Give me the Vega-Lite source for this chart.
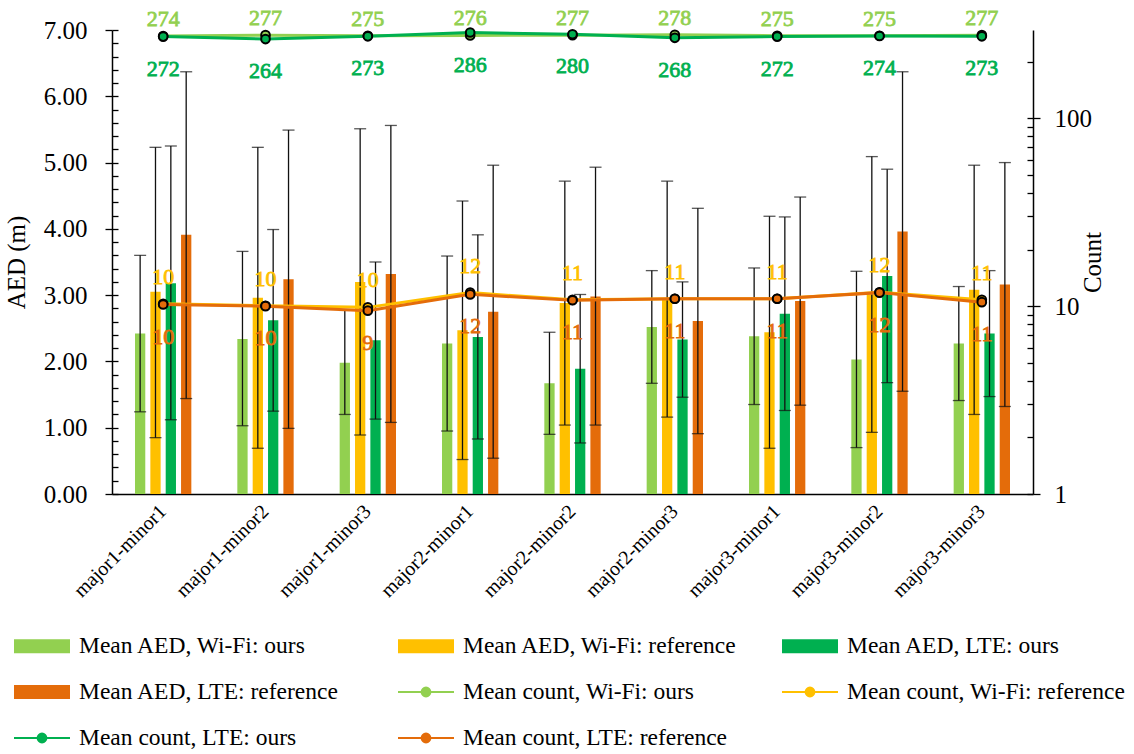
{
  "$schema": "https://vega.github.io/schema/vega-lite/v6.json",
  "width": 921,
  "height": 464,
  "autosize": {"type": "none"},
  "padding": {"left": 112, "top": 30, "right": 101, "bottom": 260},
  "background": "white",
  "config": {
    "font": "Liberation Serif",
    "view": {"stroke": null},
    "axis": {"grid": false, "domainColor": "black", "tickColor": "black", "labelColor": "black", "titleColor": "black", "titleFontWeight": "normal", "domainWidth": 1.5, "tickWidth": 1.3},
    "text": {"font": "Liberation Serif"}
  },
  "datasets": {
    "aed": [
      {"group": "major1-minor1", "series": "Mean AED, Wi-Fi: ours", "mean": 2.42, "lo": 1.24, "hi": 3.60},
      {"group": "major1-minor1", "series": "Mean AED, Wi-Fi: reference", "mean": 3.05, "lo": 0.85, "hi": 5.23},
      {"group": "major1-minor1", "series": "Mean AED, LTE: ours", "mean": 3.18, "lo": 1.12, "hi": 5.25},
      {"group": "major1-minor1", "series": "Mean AED, LTE: reference", "mean": 3.91, "lo": 1.44, "hi": 6.37},
      {"group": "major1-minor2", "series": "Mean AED, Wi-Fi: ours", "mean": 2.34, "lo": 1.03, "hi": 3.66},
      {"group": "major1-minor2", "series": "Mean AED, Wi-Fi: reference", "mean": 2.96, "lo": 0.69, "hi": 5.23},
      {"group": "major1-minor2", "series": "Mean AED, LTE: ours", "mean": 2.62, "lo": 1.25, "hi": 3.99},
      {"group": "major1-minor2", "series": "Mean AED, LTE: reference", "mean": 3.24, "lo": 0.99, "hi": 5.49},
      {"group": "major1-minor3", "series": "Mean AED, Wi-Fi: ours", "mean": 1.98, "lo": 1.20, "hi": 2.77},
      {"group": "major1-minor3", "series": "Mean AED, Wi-Fi: reference", "mean": 3.20, "lo": 0.89, "hi": 5.51},
      {"group": "major1-minor3", "series": "Mean AED, LTE: ours", "mean": 2.32, "lo": 1.13, "hi": 3.50},
      {"group": "major1-minor3", "series": "Mean AED, LTE: reference", "mean": 3.32, "lo": 1.08, "hi": 5.56},
      {"group": "major2-minor1", "series": "Mean AED, Wi-Fi: ours", "mean": 2.27, "lo": 0.95, "hi": 3.59},
      {"group": "major2-minor1", "series": "Mean AED, Wi-Fi: reference", "mean": 2.47, "lo": 0.52, "hi": 4.42},
      {"group": "major2-minor1", "series": "Mean AED, LTE: ours", "mean": 2.37, "lo": 0.83, "hi": 3.91},
      {"group": "major2-minor1", "series": "Mean AED, LTE: reference", "mean": 2.75, "lo": 0.54, "hi": 4.96},
      {"group": "major2-minor2", "series": "Mean AED, Wi-Fi: ours", "mean": 1.67, "lo": 0.90, "hi": 2.44},
      {"group": "major2-minor2", "series": "Mean AED, Wi-Fi: reference", "mean": 2.88, "lo": 1.04, "hi": 4.72},
      {"group": "major2-minor2", "series": "Mean AED, LTE: ours", "mean": 1.89, "lo": 0.77, "hi": 3.01},
      {"group": "major2-minor2", "series": "Mean AED, LTE: reference", "mean": 2.98, "lo": 1.04, "hi": 4.93},
      {"group": "major2-minor3", "series": "Mean AED, Wi-Fi: ours", "mean": 2.52, "lo": 1.67, "hi": 3.37},
      {"group": "major2-minor3", "series": "Mean AED, Wi-Fi: reference", "mean": 2.94, "lo": 1.16, "hi": 4.72},
      {"group": "major2-minor3", "series": "Mean AED, LTE: ours", "mean": 2.33, "lo": 1.46, "hi": 3.20},
      {"group": "major2-minor3", "series": "Mean AED, LTE: reference", "mean": 2.61, "lo": 0.91, "hi": 4.31},
      {"group": "major3-minor1", "series": "Mean AED, Wi-Fi: ours", "mean": 2.38, "lo": 1.35, "hi": 3.41},
      {"group": "major3-minor1", "series": "Mean AED, Wi-Fi: reference", "mean": 2.44, "lo": 0.69, "hi": 4.19},
      {"group": "major3-minor1", "series": "Mean AED, LTE: ours", "mean": 2.72, "lo": 1.26, "hi": 4.18},
      {"group": "major3-minor1", "series": "Mean AED, LTE: reference", "mean": 2.91, "lo": 1.34, "hi": 4.48},
      {"group": "major3-minor2", "series": "Mean AED, Wi-Fi: ours", "mean": 2.03, "lo": 0.70, "hi": 3.36},
      {"group": "major3-minor2", "series": "Mean AED, Wi-Fi: reference", "mean": 3.01, "lo": 0.93, "hi": 5.09},
      {"group": "major3-minor2", "series": "Mean AED, LTE: ours", "mean": 3.29, "lo": 1.68, "hi": 4.90},
      {"group": "major3-minor2", "series": "Mean AED, LTE: reference", "mean": 3.96, "lo": 1.55, "hi": 6.37},
      {"group": "major3-minor3", "series": "Mean AED, Wi-Fi: ours", "mean": 2.27, "lo": 1.41, "hi": 3.13},
      {"group": "major3-minor3", "series": "Mean AED, Wi-Fi: reference", "mean": 3.08, "lo": 1.20, "hi": 4.96},
      {"group": "major3-minor3", "series": "Mean AED, LTE: ours", "mean": 2.42, "lo": 1.47, "hi": 3.37},
      {"group": "major3-minor3", "series": "Mean AED, LTE: reference", "mean": 3.16, "lo": 1.32, "hi": 5.00}
    ],
    "count": [
      {"group": "major1-minor1", "series": "Mean count, Wi-Fi: ours", "count": 274},
      {"group": "major1-minor2", "series": "Mean count, Wi-Fi: ours", "count": 277},
      {"group": "major1-minor3", "series": "Mean count, Wi-Fi: ours", "count": 275},
      {"group": "major2-minor1", "series": "Mean count, Wi-Fi: ours", "count": 276},
      {"group": "major2-minor2", "series": "Mean count, Wi-Fi: ours", "count": 277},
      {"group": "major2-minor3", "series": "Mean count, Wi-Fi: ours", "count": 278},
      {"group": "major3-minor1", "series": "Mean count, Wi-Fi: ours", "count": 275},
      {"group": "major3-minor2", "series": "Mean count, Wi-Fi: ours", "count": 275},
      {"group": "major3-minor3", "series": "Mean count, Wi-Fi: ours", "count": 277},
      {"group": "major1-minor1", "series": "Mean count, Wi-Fi: reference", "count": 10.3},
      {"group": "major1-minor2", "series": "Mean count, Wi-Fi: reference", "count": 10.05},
      {"group": "major1-minor3", "series": "Mean count, Wi-Fi: reference", "count": 9.85},
      {"group": "major2-minor1", "series": "Mean count, Wi-Fi: reference", "count": 11.8},
      {"group": "major2-minor2", "series": "Mean count, Wi-Fi: reference", "count": 10.8},
      {"group": "major2-minor3", "series": "Mean count, Wi-Fi: reference", "count": 10.95},
      {"group": "major3-minor1", "series": "Mean count, Wi-Fi: reference", "count": 10.95},
      {"group": "major3-minor2", "series": "Mean count, Wi-Fi: reference", "count": 11.85},
      {"group": "major3-minor3", "series": "Mean count, Wi-Fi: reference", "count": 10.8},
      {"group": "major1-minor1", "series": "Mean count, LTE: ours", "count": 272},
      {"group": "major1-minor2", "series": "Mean count, LTE: ours", "count": 264},
      {"group": "major1-minor3", "series": "Mean count, LTE: ours", "count": 273},
      {"group": "major2-minor1", "series": "Mean count, LTE: ours", "count": 286},
      {"group": "major2-minor2", "series": "Mean count, LTE: ours", "count": 280},
      {"group": "major2-minor3", "series": "Mean count, LTE: ours", "count": 268},
      {"group": "major3-minor1", "series": "Mean count, LTE: ours", "count": 272},
      {"group": "major3-minor2", "series": "Mean count, LTE: ours", "count": 274},
      {"group": "major3-minor3", "series": "Mean count, LTE: ours", "count": 273},
      {"group": "major1-minor1", "series": "Mean count, LTE: reference", "count": 10.2},
      {"group": "major1-minor2", "series": "Mean count, LTE: reference", "count": 10.0},
      {"group": "major1-minor3", "series": "Mean count, LTE: reference", "count": 9.46},
      {"group": "major2-minor1", "series": "Mean count, LTE: reference", "count": 11.55},
      {"group": "major2-minor2", "series": "Mean count, LTE: reference", "count": 10.75},
      {"group": "major2-minor3", "series": "Mean count, LTE: reference", "count": 10.95},
      {"group": "major3-minor1", "series": "Mean count, LTE: reference", "count": 10.95},
      {"group": "major3-minor2", "series": "Mean count, LTE: reference", "count": 11.8},
      {"group": "major3-minor3", "series": "Mean count, LTE: reference", "count": 10.5}
    ]
  },
  "encoding": {
    "x": {
      "field": "group", "type": "nominal", "sort": null,
      "scale": {"paddingInner": 0.4, "paddingOuter": 0.2},
      "axis": {"title": null, "labelAngle": -45, "labelAlign": "right", "labelBaseline": "middle", "labelFont": "Liberation Serif", "labelFontSize": 20, "ticks": false, "labelPadding": 14}
    },
    "color": {
      "field": "series", "type": "nominal",
      "scale": {
        "domain": ["Mean AED, Wi-Fi: ours", "Mean AED, Wi-Fi: reference", "Mean AED, LTE: ours", "Mean AED, LTE: reference", "Mean count, Wi-Fi: ours", "Mean count, Wi-Fi: reference", "Mean count, LTE: ours", "Mean count, LTE: reference"],
        "range": ["#92D050", "#FFC000", "#00B050", "#E46C0A", "#92D050", "#FFC000", "#00B050", "#E46C0A"]
      },
      "legend": {
        "title": null, "orient": "none", "legendX": -98, "legendY": 595, "direction": "horizontal",
        "columns": 3, "gridAlign": "all", "columnPadding": 36, "rowPadding": 13, "padding": 0,
        "symbolSize": 1600, "symbolStrokeWidth": 2, "symbolOffset": 7, "labelOffset": 16,
        "labelFont": "Liberation Serif", "labelFontSize": 23.5, "labelColor": "black", "labelLimit": 0,
        "encode": {
          "symbols": {
            "update": {
              "shape": {"signal": "indexof(datum.value, 'Mean count') === 0 ? 'M-1.4,0H1.4M0.22,0A0.22,0.22 0 1,1 -0.22,0A0.22,0.22 0 1,1 0.22,0Z' : 'M-1.35,-0.3H1.35V0.3H-1.35Z'"},
              "fill": {"scale": "color", "field": "value"},
              "stroke": {"scale": "color", "field": "value"},
              "opacity": {"value": 1},
              "fillOpacity": {"value": 1}
            }
          }
        }
      }
    }
  },
  "resolve": {"scale": {"y": "independent"}},
  "layer": [
    {
      "data": {"name": "aed"},
      "mark": {"type": "bar"},
      "encoding": {
        "xOffset": {"field": "series", "type": "nominal", "scale": {"domain": ["Mean AED, Wi-Fi: ours", "Mean AED, Wi-Fi: reference", "Mean AED, LTE: ours", "Mean AED, LTE: reference"], "paddingInner": 0.33, "paddingOuter": 0.165}},
        "y": {
          "field": "mean", "type": "quantitative",
          "scale": {"domain": [0, 7], "nice": false, "zero": true},
          "axis": {"orient": "left", "values": [0, 1, 2, 3, 4, 5, 6, 7], "format": ".2f", "tickSize": 7, "labelFont": "Liberation Serif", "labelFontSize": 25, "labelPadding": 18, "title": "AED (m)", "titleFont": "Liberation Serif", "titleFontSize": 25, "titlePadding": 14}
        }
      }
    },
    {
      "data": {"name": "aed"},
      "mark": {"type": "rule", "strokeWidth": 1.3},
      "encoding": {
        "xOffset": {"field": "series", "type": "nominal"},
        "color": {"value": "#111111"},
        "y": {
          "field": "lo", "type": "quantitative",
          "scale": {"domain": [0, 7], "nice": false, "zero": true},
          "axis": {"orient": "left", "values": [0, 0.2, 0.4, 0.6, 0.8, 1, 1.2, 1.4, 1.6, 1.8, 2, 2.2, 2.4, 2.6, 2.8, 3, 3.2, 3.4, 3.6, 3.8, 4, 4.2, 4.4, 4.6, 4.8, 5, 5.2, 5.4, 5.6, 5.8, 6, 6.2, 6.4, 6.6, 6.8, 7], "tickSize": -6, "labels": false, "domain": false, "title": null}
        },
        "y2": {"field": "hi"}
      }
    },
    {
      "data": {"name": "aed"},
      "mark": {"type": "tick", "thickness": 1.3, "size": 12},
      "encoding": {
        "xOffset": {"field": "series", "type": "nominal"},
        "color": {"value": "#111111"},
        "y": {"field": "lo", "type": "quantitative", "scale": {"domain": [0, 7], "nice": false, "zero": true}, "axis": null}
      }
    },
    {
      "data": {"name": "aed"},
      "mark": {"type": "tick", "thickness": 1.3, "size": 12},
      "encoding": {
        "xOffset": {"field": "series", "type": "nominal"},
        "color": {"value": "#111111"},
        "y": {"field": "hi", "type": "quantitative", "scale": {"domain": [0, 7], "nice": false, "zero": true}, "axis": null}
      }
    },
    {
      "data": {"name": "count"},
      "mark": {"type": "line", "strokeWidth": 3},
      "encoding": {
        "y": {
          "field": "count", "type": "quantitative",
          "scale": {"type": "log", "domain": [1, 295], "nice": false},
          "axis": {"orient": "right", "values": [1, 10, 100], "tickSize": 7, "labelFont": "Liberation Serif", "labelFontSize": 25, "labelPadding": 14, "title": "Count", "titleFont": "Liberation Serif", "titleFontSize": 25, "titlePadding": 14, "titleAngle": 270}
        }
      }
    },
    {
      "data": {"name": "count"},
      "mark": {"type": "point", "filled": true, "size": 75, "stroke": "black", "strokeWidth": 2, "opacity": 1},
      "encoding": {
        "y": {
          "field": "count", "type": "quantitative",
          "scale": {"type": "log", "domain": [1, 295], "nice": false},
          "axis": {"orient": "right", "values": [1, 2, 3, 4, 5, 6, 7, 8, 9, 10, 20, 30, 40, 50, 60, 70, 80, 90, 100, 200], "tickSize": -6, "labels": false, "domain": false, "title": null}
        }
      }
    },
    {
      "data": {"name": "count"},
      "transform": [{"filter": "datum.series === 'Mean count, Wi-Fi: ours'"}],
      "mark": {"type": "text", "dy": -17, "fontSize": 22, "font": "Liberation Serif", "baseline": "middle", "stroke": "#92D050", "strokeWidth": 0.8},
      "encoding": {"y": {"field": "count", "type": "quantitative", "scale": {"type": "log", "domain": [1, 295], "nice": false}, "axis": null}, "text": {"field": "count", "type": "quantitative", "format": ".0f"}}
    },
    {
      "data": {"name": "count"},
      "transform": [{"filter": "datum.series === 'Mean count, LTE: ours'"}],
      "mark": {"type": "text", "dy": 32, "fontSize": 22, "font": "Liberation Serif", "baseline": "middle", "stroke": "#00B050", "strokeWidth": 0.8},
      "encoding": {"y": {"field": "count", "type": "quantitative", "scale": {"type": "log", "domain": [1, 295], "nice": false}, "axis": null}, "text": {"field": "count", "type": "quantitative", "format": ".0f"}}
    },
    {
      "data": {"name": "count"},
      "transform": [{"filter": "datum.series === 'Mean count, Wi-Fi: reference'"}],
      "mark": {"type": "text", "dy": -27, "fontSize": 22, "font": "Liberation Serif", "baseline": "middle", "stroke": "#FFC000", "strokeWidth": 0.8},
      "encoding": {"y": {"field": "count", "type": "quantitative", "scale": {"type": "log", "domain": [1, 295], "nice": false}, "axis": null}, "text": {"field": "count", "type": "quantitative", "format": ".0f"}}
    },
    {
      "data": {"name": "count"},
      "transform": [{"filter": "datum.series === 'Mean count, LTE: reference'"}],
      "mark": {"type": "text", "dy": 32, "fontSize": 22, "font": "Liberation Serif", "baseline": "middle", "stroke": "#E46C0A", "strokeWidth": 0.8},
      "encoding": {"y": {"field": "count", "type": "quantitative", "scale": {"type": "log", "domain": [1, 295], "nice": false}, "axis": null}, "text": {"field": "count", "type": "quantitative", "format": ".0f"}}
    }
  ]
}
